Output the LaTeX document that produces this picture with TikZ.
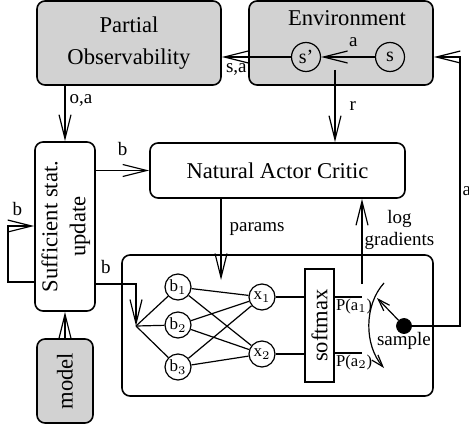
\documentclass[tikz,border=0pt]{standalone}
\usepackage{fontspec}
\setmainfont{Liberation Serif}
\usepackage{graphicx}
\usetikzlibrary{arrows.meta}

\tikzset{
  box/.style={draw, rounded corners=4pt, line width=0.8pt, inner sep=0pt, align=center, font=\fontsize{11.3}{16}\selectfont},
  greybox/.style={box, fill=gray!35},
  state/.style={draw, circle, line width=0.6pt, inner sep=0pt, minimum size=14.5pt, font=\fontsize{10}{12}\selectfont},
  unit/.style={draw, circle, line width=0.6pt, inner sep=0pt, minimum size=13pt, font=\fontsize{8.5}{10}\selectfont},
  lab/.style={inner sep=1pt, font=\fontsize{9.5}{11}\selectfont},
  small/.style={inner sep=1pt, font=\fontsize{8.3}{10}\selectfont},
  conn/.style={line width=0.6pt},
  >={Straight Barb[length=12pt, width=6pt]},
}

\begin{document}
\begin{tikzpicture}[x=0.5pt, y=-0.5pt]
\useasboundingbox (0,0) rectangle (469,427);

% Boxes
\node[greybox, minimum width=92pt, minimum height=42pt] (partial) at (129,43) {Partial\\Observability};
\node[greybox, minimum width=92pt, minimum height=42pt] (env) at (341,43) {};
\node[font=\fontsize{11.3}{13}\selectfont, inner sep=0pt] (envlabel) at (347,18) {Environment};
\node[state] (sp) at (306,57) {s'};
\node[state] (s) at (390,57) {s};
\node[box, minimum width=127.5pt, minimum height=27.5pt] (nac) at (277.5,170.5) {Natural Actor Critic};
\node[box, minimum width=28pt, minimum height=84.5pt] (suff) at (65,226.5)
  {\rotatebox{90}{\begin{tabular}{@{}c@{}}Sufficient stat.\\[-2pt]update\end{tabular}}};
\node[greybox, minimum width=28pt, minimum height=42pt] (model) at (65,381) {\rotatebox{90}{model}};
\node[box, minimum width=155.5pt, minimum height=70.5pt] (net) at (277.5,325.5) {};

% Policy network
\node[unit] (b1) at (178,287) {b$_1$};
\node[unit] (b2) at (178,325) {b$_2$};
\node[unit] (b3) at (178,367) {b$_3$};
\node[unit] (x1) at (262,297) {x$_1$};
\node[unit] (x2) at (262,354) {x$_2$};
\node[draw, line width=0.6pt, inner sep=0pt, minimum width=14.5pt, minimum height=56.5pt,
  font=\fontsize{11.3}{13}\selectfont] (soft) at (319.5,325.5) {\rotatebox{90}{softmax}};
\node[draw, circle, fill=black, inner sep=0pt, minimum size=7.5pt] (dot) at (404,326) {};
\coordinate (fan) at (136,326);

\foreach \i in {1,2,3} {
  \draw[conn] (fan) -- (b\i);
  \foreach \j in {1,2}
    \draw[conn] (b\i) -- (x\j);
}
\draw[conn] (x1) -- (x1 -| soft.west);
\draw[conn] (x2) -- (x2 -| soft.west);

% Action probabilities and sampling
\coordinate (pa1) at (362,297);
\coordinate (pa2) at (362,353);
\draw[conn] (pa1 -| soft.east) node[small, below right, inner sep=0.5pt] {P(a$_1$)} -- (pa1);
\draw[conn] (pa2 -| soft.east) node[small, below right, inner sep=0.5pt] {P(a$_2$)} -- (pa2);
\draw[conn, -{Straight Barb[length=6pt, width=4pt]}] (dot) -- (377,298);
\draw[conn, -{Straight Barb[length=6pt, width=4pt]}] (384,283) .. controls (364,305) and (364,345) .. (384,368);
\node[lab] (samplelabel) at (404,341) {sample};

% Arrows and labels
\draw[conn, ->] (s) -- (sp) node[lab, pos=0.4, above=4pt] {a};
\draw[conn, ->] (sp) -- (sp -| partial.east) node[lab, pos=0.79, below=2pt] {s,a};
\coordinate (rout) at (335,70);
\draw[conn, ->] (rout) -- (rout |- nac.north) node[lab, midway, right=6pt] {r};
\draw[conn, ->] (suff.north |- partial.south) -- (suff.north) node[lab, pos=0.27, right=1pt] {o,a};
\draw[conn, ->] (suff.east |- nac.west) -- (nac.west) node[lab, midway, above=6pt] {b};
\draw[conn, ->] (model.north) -- (suff.south);

\coordinate (loopa) at (8,282);
\coordinate (loopb) at (8,226);
\draw[conn, ->] (suff.west |- loopa) -- (loopa) -- (loopb) node[lab, above right, xshift=1pt, yshift=4pt] {b} -- (loopb -| suff.west);

\coordinate (bturn) at (136,284);
\draw[conn, ->] (bturn -| suff.east) -- (bturn) node[lab, pos=0.25, above=4pt] {b} -- (fan);

\coordinate (par) at (221,280);
\draw[conn, ->] (par |- nac.south) -- (par) node[lab, pos=0.37, right=3pt] {params};

\coordinate (lg) at (362,284);
\draw[conn, ->] (lg) -- (lg |- nac.south) node[lab, pos=0.64, right=0pt, align=center] {log\\gradients};

\coordinate (aright) at (460,57);
\draw[conn, ->] (dot) -| (aright) node[lab, pos=0.75, right=0pt] {a} -- (aright -| env.east);

\end{tikzpicture}
\end{document}
